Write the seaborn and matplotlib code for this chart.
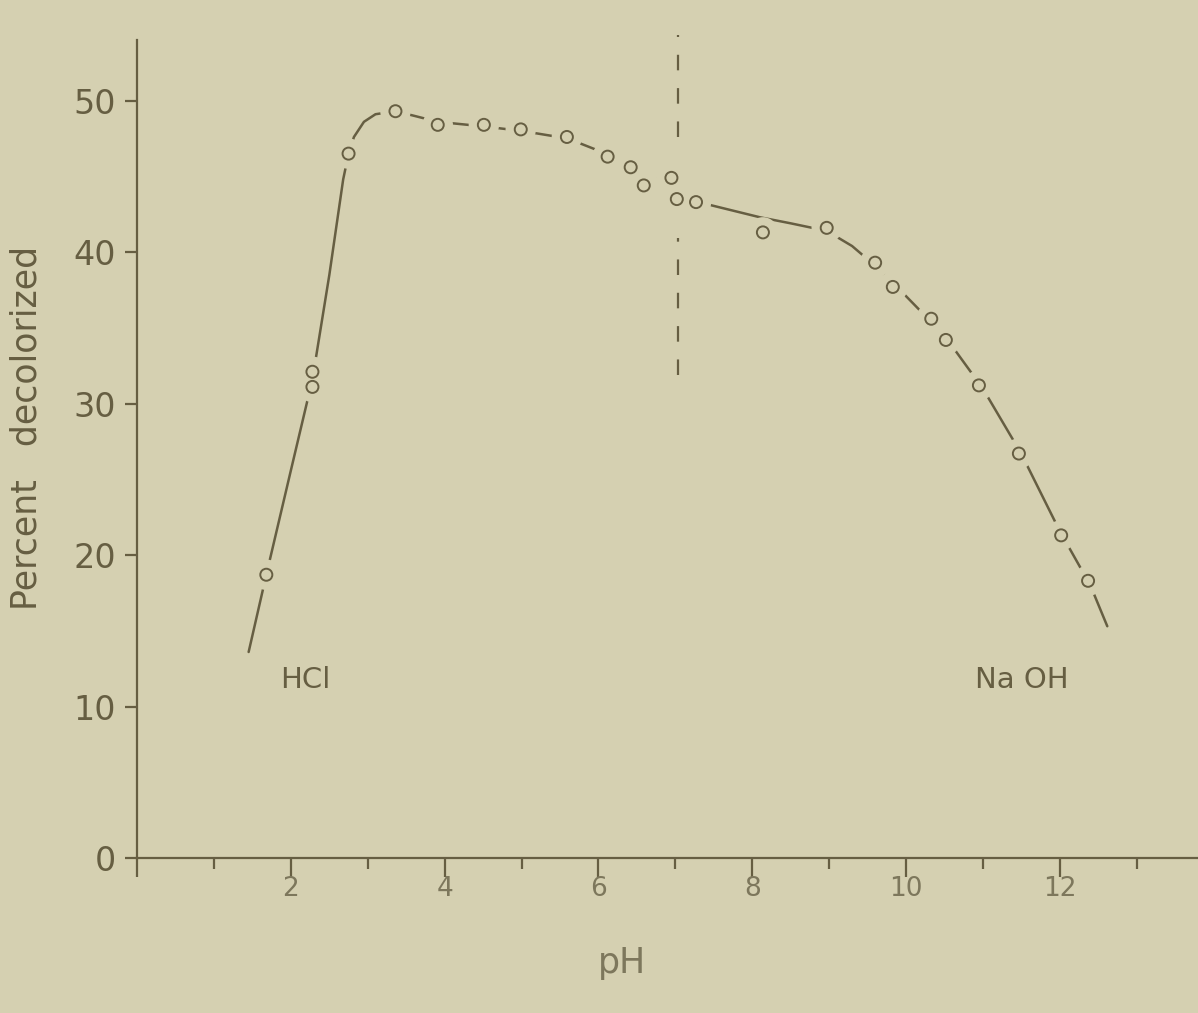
import matplotlib
matplotlib.use("Agg")
import matplotlib.pyplot as plt
import numpy as np
import pandas as pd
import seaborn as sns

# measured points (pH, percent decolorized)
ph_points = [1.68, 2.28, 2.28, 2.75, 3.36, 3.91, 4.51, 4.99, 5.59, 6.12, 6.42, 6.59,
             6.95, 7.02, 7.27, 8.14, 8.97, 9.60, 9.83, 10.33, 10.52, 10.95, 11.47,
             12.02, 12.37]
pct_points = [18.7, 32.1, 31.1, 46.5, 49.3, 48.4, 48.4, 48.1, 47.6, 46.3, 45.6, 44.4,
              44.9, 43.5, 43.3, 41.3, 41.6, 39.3, 37.7, 35.6, 34.2, 31.2, 26.7,
              21.3, 18.3]

# hand-drawn smooth curve through the points
ph_curve = [1.45, 1.68, 2.0, 2.28, 2.5, 2.68, 2.75, 2.82, 2.95, 3.1, 3.36,
            3.6, 3.91, 4.5, 5.0, 5.6, 6.1, 6.5, 7.0, 7.3, 7.7, 8.1, 8.5, 8.97, 9.3,
            9.6, 10.0, 10.5, 11.0, 11.5, 12.0, 12.4, 12.62]
pct_curve = [13.6, 18.7, 25.6, 31.6, 38.5, 44.8, 46.5, 47.6, 48.6, 49.1, 49.3,
             49.0, 48.6, 48.3, 48.0, 47.5, 46.5, 45.4, 44.2, 43.3, 42.8, 42.3,
             41.9, 41.4, 40.4, 39.1, 37.1, 34.5, 31.0, 26.7, 21.6, 18.0, 15.3]

# dashed reference line at neutral pH (two pieces, broken around the curve)
neutral_ph = 7.03
neutral_lo = [47.6, 31.9]
neutral_hi = [54.3, 40.9]

bg = "#d5d0b1"
ink = "#665e42"
ink_light = "#7d775c"

sns.set_theme(style="ticks", rc={
    "figure.facecolor": bg,
    "axes.facecolor": bg,
    "axes.edgecolor": ink,
    "axes.linewidth": 1.6,
    "xtick.color": ink,
    "ytick.color": ink,
})
plt.rcParams["font.family"] = ["DejaVu Sans"]

fig = plt.figure(figsize=(11.98, 10.13), dpi=100)
ax = fig.add_axes([0.1145, 0.153, 0.8855, 0.8075])

curve = pd.DataFrame({"pH": ph_curve, "pct": pct_curve})
pts = pd.DataFrame({"pH": ph_points, "pct": pct_points})

sns.lineplot(data=curve, x="pH", y="pct", sort=False, estimator=None,
             color=ink, lw=1.8, ax=ax, zorder=2)
# background-coloured discs break the curve around each point
sns.scatterplot(data=pts, x="pH", y="pct", s=480, color=bg, edgecolor="none",
                ax=ax, zorder=3)
sns.scatterplot(data=pts, x="pH", y="pct", s=75, facecolor="none",
                edgecolor=ink, linewidth=1.4, ax=ax, zorder=4)

ax.vlines([neutral_ph] * 2, neutral_lo, neutral_hi, colors=ink, lw=1.6,
          linestyles=(0, (7, 8)), zorder=1, clip_on=False)

ax.text(2.19, 11.75, "HCl", fontsize=21, color=ink, ha="center", va="center")
ax.text(11.51, 11.75, "Na OH", fontsize=21, color=ink, ha="center", va="center")

ax.set_xlim(0, 13.8)
ax.set_ylim(0, 54)
ax.set_xticks(range(0, 14, 2))
ax.set_xticklabels(["", "2", "4", "6", "8", "10", "12"])
ax.set_xticks(range(1, 14, 2), minor=True)
ax.set_yticks(range(0, 60, 10))
ax.tick_params(axis="x", which="major", length=14, width=1.6, pad=-1,
               labelsize=19, labelcolor=ink_light)
ax.tick_params(axis="x", which="minor", length=8, width=1.6)
ax.tick_params(axis="y", length=9, width=1.6, pad=6, labelsize=24, labelcolor=ink)
ax.spines["top"].set_visible(False)
ax.spines["right"].set_visible(False)

ax.set_xlabel("pH", fontsize=25, color=ink_light)
ax.xaxis.set_label_coords(0.457, -0.108)
ax.set_ylabel("Percent   decolorized", fontsize=25, color=ink)
ax.yaxis.set_label_coords(-0.088, 0.526)

fig.savefig("out.png", dpi=100, facecolor=bg)
